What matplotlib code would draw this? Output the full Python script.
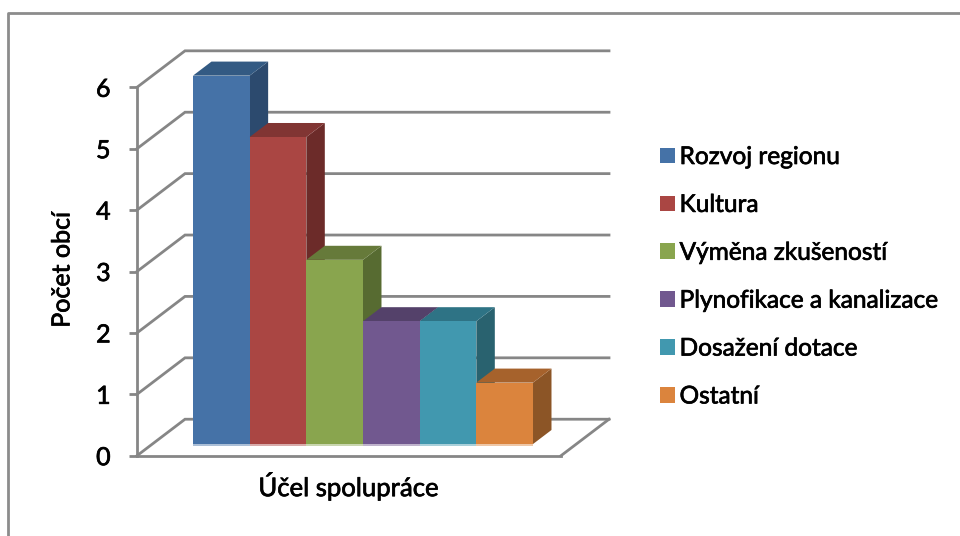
#!/usr/bin/python

import matplotlib
matplotlib.use('Agg')
import matplotlib.pyplot as plt
import matplotlib.patheffects as pe
from matplotlib.lines import Line2D
from matplotlib.patches import Patch

names = ['Rozvoj regionu', 'Kultura', 'Výměna zkušeností',
         'Plynofikace a kanalizace', 'Dosažení dotace', 'Ostatní']
values = [6, 5, 3, 2, 2, 1]
front_col = ['#4572A7', '#AA4643', '#89A54E', '#71588F', '#4198AF', '#DB843D']
top_col = ['#335A83', '#813533', '#667A3A', '#54416A', '#2E7385', '#A6622C']
side_col = ['#2C4A6E', '#6C2B29', '#576B31', '#49385B', '#29626F', '#8C5526']
yticks = [0, 1, 2, 3, 4, 5, 6]

GRID = '#868686'
XMAX = 7.482     # floor width in bar widths
DX = 0.847       # depth of the box, in x units
DY = 0.594       # depth of the box, in y units
BAR_X0 = 0.717
Z0, Z1 = 0.32, 0.705   # bar depth inside the box
# the letters in the original are heavier than Lato regular
HEAVY = [pe.withStroke(linewidth=0.5, foreground='black')]


def proj(x, y, z):
    return x + z*DX, y + z*DY


plt.rcParams['font.family'] = ['Lato', 'DejaVu Sans']
fig = plt.figure(figsize=(9.6, 5.36), dpi=100)
ax = fig.add_axes([137/960, (536-455.7)/536, 424/960, 368.4/536])
ax.patch.set_visible(False)
ax.set_xlim(0, XMAX)
ax.set_ylim(0, 6)

# chart frame
fig.add_artist(Line2D([7.5/960, 7.5/960, 1], [0, 1-13/536, 1-13/536], color='#8c8c8c', lw=2))

# walls
for v in yticks:
    xb, yb = proj(0, v, 1)
    xe, ye = proj(XMAX, v, 1)
    ax.plot([0, xb, xe], [v, yb, ye], color=GRID, lw=2, clip_on=False, zorder=1,
            solid_joinstyle='miter')
xa, ya = proj(XMAX, 0, 1)
ax.plot([XMAX, xa], [0, ya], color=GRID, lw=2, clip_on=False, zorder=1)

# bars
for i, v in enumerate(values):
    l, r = BAR_X0 + i, BAR_X0 + i + 1
    p0 = proj(l, 0, Z0)
    p1 = proj(r, 0, Z0)
    base = p0[1]
    ax.fill([p0[0], p1[0], p1[0], p0[0]], [base - 0.035, base - 0.035, base, base],
            color=front_col[i], alpha=0.45, lw=0, clip_on=False, zorder=2)
    corners = [proj(r, 0, Z0), proj(r, 0, Z1), proj(r, v, Z1), proj(r, v, Z0)]
    ax.fill(*zip(*corners), color=side_col[i], lw=0, clip_on=False, zorder=3 + i)
    corners = [proj(l, v, Z0), proj(r, v, Z0), proj(r, v, Z1), proj(l, v, Z1)]
    ax.fill(*zip(*corners), color=top_col[i], lw=0, clip_on=False, zorder=3 + i)
    corners = [proj(l, 0, Z0), proj(r, 0, Z0), proj(r, v, Z0), proj(l, v, Z0)]
    ax.fill(*zip(*corners), color=front_col[i], lw=0, clip_on=False, zorder=3 + i)

for s in ['top', 'right']:
    ax.spines[s].set_visible(False)
for s in ['left', 'bottom']:
    ax.spines[s].set_color(GRID)
    ax.spines[s].set_linewidth(2)
    ax.spines[s].set_zorder(2)

ax.set_xticks([])
ax.set_yticks(yticks)
ax.tick_params(axis='y', length=6, width=2, color=GRID, pad=13, labelsize=18)
for t in ax.get_yticklabels():
    t.set_path_effects(HEAVY)

ax.set_xlabel('Účel spolupráce', fontsize=18.5, va='center', path_effects=HEAVY)
ax.xaxis.set_label_coords(0.5, -0.082)
ax.set_ylabel('Počet obcí', fontsize=18, va='center', path_effects=HEAVY)
ax.yaxis.set_label_coords(-0.177, 0.504)

handles = [Patch(facecolor=c, edgecolor='none') for c in front_col]
leg = fig.legend(handles, names, loc='upper left', bbox_to_anchor=(660/960, 1-147/536),
                 frameon=False, fontsize=17.6, handlelength=0.6, handleheight=0.6,
                 handletextpad=0.2, labelspacing=1.10, borderpad=0, borderaxespad=0)
for t in leg.get_texts():
    t.set_path_effects(HEAVY)

fig.savefig('out.png', dpi=100)
